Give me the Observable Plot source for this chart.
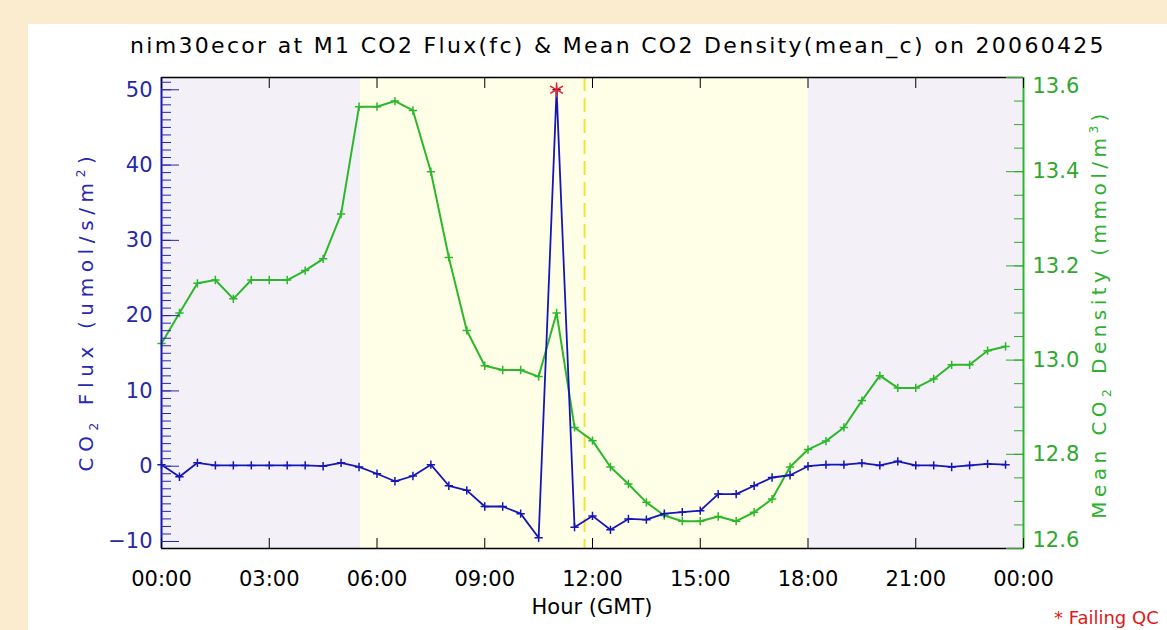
<!DOCTYPE html>
<html><head><meta charset="utf-8">
<script src="https://cdn.jsdelivr.net/npm/d3@7"></script>
<script src="https://cdn.jsdelivr.net/npm/@observablehq/plot@0.6"></script>
<style>
html,body{margin:0;padding:0;width:1167px;height:630px;overflow:hidden;background:#fbebcf;font-family:"DejaVu Sans",sans-serif;}
#panel{position:absolute;left:28px;top:24px;right:0;bottom:0;background:#fff;}
#chart{position:absolute;left:0;top:0;}
.t{position:absolute;white-space:nowrap;line-height:1;}
sub,sup{font-size:60%;line-height:0;}
</style></head><body>
<div id="panel"></div>
<div id="chart"></div>
<div class="t" id="title" style="left:618px;top:46px;transform:translate(-50%,-50%);font-size:22px;color:#000;">nim30ecor at M1 CO2 Flux(fc) &amp; Mean CO2 Density(mean_c) on 20060425</div>
<div class="t" id="xlab" style="left:592px;top:607px;transform:translate(-50%,-50%);font-size:21px;color:#000;">Hour (GMT)</div>
<div class="t" id="ylab" style="left:86px;top:311px;transform:translate(-50%,-50%) rotate(-90deg);font-size:20px;color:#2828b0;">CO<sub>2</sub> Flux (umol/s/m<sup>2</sup>)</div>
<div class="t" id="y2lab" style="left:1099px;top:314px;transform:translate(-50%,-50%) rotate(-90deg);font-size:20px;color:#2eb02e;">Mean CO<sub>2</sub> Density (mmol/m<sup>3</sup>)</div>
<div class="t" id="fail" style="left:1054px;top:609px;font-size:18px;color:#e01818;">* Failing QC</div>
<script>
// ---- data ----
const hours = [0,0.5,1,1.5,2,2.5,3,3.5,4,4.5,5,5.5,6,6.5,7,7.5,8,8.5,9,9.5,10,10.5,11,11.5,
               12,12.5,13,13.5,14,14.5,15,15.5,16,16.5,17,17.5,18,18.5,19,19.5,20,20.5,21,21.5,22,22.5,23,23.5];
const flux = [0.2,-1.4,0.45,0.1,0.1,0.1,0.1,0.1,0.1,0.0,0.45,-0.1,-1.0,-2.0,-1.3,0.2,-2.6,-3.2,-5.35,-5.35,-6.3,-9.5,50.0,-8.1,
              -6.6,-8.45,-7.0,-7.1,-6.3,-6.1,-5.9,-3.7,-3.7,-2.6,-1.5,-1.2,0.0,0.2,0.2,0.4,0.1,0.65,0.1,0.1,-0.1,0.1,0.3,0.2];
const density = [13.035,13.10,13.163,13.17,13.13,13.17,13.17,13.17,13.19,13.215,13.31,13.538,13.538,13.55,13.53,13.40,13.218,13.063,12.988,12.979,12.979,12.965,13.10,12.857,
                 12.829,12.773,12.737,12.698,12.670,12.658,12.658,12.668,12.658,12.677,12.705,12.773,12.81,12.828,12.857,12.914,12.967,12.941,12.941,12.96,12.99,12.99,13.02,13.029];
const failHours = [11];
const failFlux = [50.0];
const nightBands = [[0,5.55],[18.0,24]];
const dayBands = [[5.55,18.0]];
const qcLineHour = [11.78];
const xDomain = [0,24];
const fluxDomain = [-10.93,51.63];
const densDomain = [12.6,13.6];
const xTicks = [0,3,6,9,12,15,18,21,24];
const fluxMajor = [-10,0,10,20,30,40,50];
const fluxMinor = d3.range(-10,52,1);
const densMajor = [12.6,12.8,13.0,13.2,13.4,13.6];
const densMinor = d3.range(12.6,13.6001,0.05).map(v=>+v.toFixed(2));

// map density onto the flux scale (dual axis)
const k = (fluxDomain[1]-fluxDomain[0])/(densDomain[1]-densDomain[0]);
const toL = v => fluxDomain[0] + (v-densDomain[0])*k;
const fromL = v => densDomain[0] + (v-fluxDomain[0])/k;

const fluxData = hours.map((h,i)=>({h, v: flux[i]}));
const densData = hours.map((h,i)=>({h, v: toL(density[i])}));
const failData = failHours.map((h,i)=>({h, v: failFlux[i]}));

const BLUE = "#1616b8", GREEN = "#2cb82c", BLUE_T = "#2828a8", GREEN_T = "#2ea82e";
const fmtX = d => String(d%24).padStart(2,"0")+":00";

const chart = Plot.plot({
  width: 1167, height: 630,
  marginLeft: 161, marginRight: 144, marginTop: 77, marginBottom: 82,
  style: {background: "transparent", fontFamily: "DejaVu Sans, sans-serif", fontSize: "21px", overflow: "visible"},
  x: {domain: xDomain},
  y: {domain: fluxDomain},
  marks: [
    Plot.rect(nightBands, {x1: d=>d[0], x2: d=>d[1], fill: "#f3f0f7"}),
    Plot.rect(dayBands, {x1: d=>d[0], x2: d=>d[1], fill: "#fffee6"}),
    Plot.ruleX(qcLineHour, {stroke: "#f3e23c", strokeWidth: 2, strokeDasharray: "14,7"}),
    Plot.line(densData, {x: "h", y: "v", stroke: GREEN, strokeWidth: 2}),
    Plot.dot(densData, {x: "h", y: "v", symbol: "plus", r: 2.8, stroke: GREEN, strokeWidth: 1.5}),
    Plot.line(fluxData, {x: "h", y: "v", stroke: BLUE, strokeWidth: 1.8}),
    Plot.dot(fluxData, {x: "h", y: "v", symbol: "plus", r: 2.8, stroke: BLUE, strokeWidth: 1.5}),
    Plot.dot(failData, {x: "h", y: "v", symbol: "asterisk", r: 7, stroke: "#ee1c1c", strokeWidth: 1.5}),
    // frame
    Plot.ruleY([fluxDomain[1]], {stroke: "#000", strokeWidth: 1.5}),
    Plot.ruleY([fluxDomain[0]], {stroke: "#000", strokeWidth: 1.5}),
    Plot.ruleX([xDomain[0]], {stroke: BLUE, strokeWidth: 2}),
    Plot.ruleX([xDomain[1]], {stroke: GREEN, strokeWidth: 2}),
    // x axes
    Plot.axisX(xTicks, {anchor: "bottom", tickSize: -10, tickPadding: 0, tickFormat: () => "", label: null, color: "#000"}),
    Plot.axisX(xTicks, {anchor: "top", tickSize: -10, tickPadding: 0, tickFormat: () => "", label: null, color: "#000"}),
    Plot.axisX(xTicks, {anchor: "bottom", tickSize: 0, tickPadding: 23, tickFormat: fmtX, label: null, color: "#000"}),
    // left axis
    Plot.axisY(fluxMinor, {anchor: "left", tickSize: -10, tickPadding: 0, tickFormat: () => "", label: null, color: BLUE_T}),
    Plot.axisY(fluxMajor, {anchor: "left", tickSize: -18, tickPadding: 0, tickFormat: () => "", label: null, color: BLUE_T}),
    Plot.axisY(fluxMajor, {anchor: "left", tickSize: 0, tickPadding: 9, label: null, color: BLUE_T}),
    // right axis
    Plot.axisY(densMinor.map(toL), {anchor: "right", tickSize: -10, tickPadding: 0, tickFormat: () => "", label: null, color: GREEN_T}),
    Plot.axisY(densMajor.map(toL), {anchor: "right", tickSize: -18, tickPadding: 0, tickFormat: () => "", label: null, color: GREEN_T}),
    Plot.axisY(densMajor.slice(1,-1).map(toL), {anchor: "right", tickSize: 0, tickPadding: 9, tickFormat: d => fromL(d).toFixed(1), label: null, color: GREEN_T}),
    Plot.axisY([toL(densMajor[densMajor.length-1])], {anchor: "right", tickSize: 0, tickPadding: 9, dy: 9, tickFormat: d => fromL(d).toFixed(1), label: null, color: GREEN_T}),
    Plot.axisY([toL(densMajor[0])], {anchor: "right", tickSize: 0, tickPadding: 9, dy: -8, tickFormat: d => fromL(d).toFixed(1), label: null, color: GREEN_T})
  ]
});
document.getElementById("chart").appendChild(chart);

// stretch the text blocks to the widths measured on the reference
function fit(id, target){
  const el = document.getElementById(id);
  const n = el.textContent.length;
  const w = el.offsetWidth;
  const ls = (target - w) / Math.max(1, n - 1);
  el.style.letterSpacing = ls + "px";
  el.style.marginRight = (-ls) + "px";
}
fit("title", 974);
fit("ylab", 315);
fit("y2lab", 405);
</script>
</body></html>
